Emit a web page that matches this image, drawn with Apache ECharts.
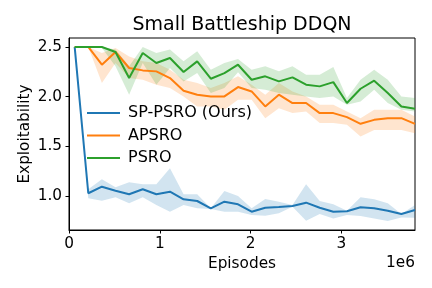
<!DOCTYPE html>
<html>
<head>
<meta charset="utf-8">
<script src="https://cdn.jsdelivr.net/npm/echarts@6/dist/echarts.min.js"></script>
<style>html,body{margin:0;padding:0;background:#fff}#c{width:432px;height:288px}</style>
</head>
<body>
<div id="c"></div>
<script>
// Episodes (x values, in units of 1e6)
const episodes = [0.0625,0.2125,0.3625,0.5125,0.6625,0.8125,0.9625,1.1125,1.2625,1.4125,1.5625,1.7125,1.8625,2.0125,2.1625,2.3125,2.4625,2.6125,2.7625,2.9125,3.0625,3.2125,3.3625,3.5125,3.6625,3.8125];
const xTicks = [0, 1, 2, 3];
const yTicks = [1.0, 1.5, 2.0, 2.5];

const spMean  = [2.5,1.027,1.093,1.053,1.017,1.067,1.017,1.043,0.966,0.949,0.875,0.942,0.916,0.841,0.881,0.888,0.899,0.932,0.881,0.841,0.845,0.886,0.875,0.851,0.818,0.858];
const spUpper = [2.5,1.067,1.168,1.087,1.137,1.117,1.117,1.279,1.016,1.016,0.875,1.050,0.999,0.875,0.969,0.942,0.909,1.117,0.949,0.915,0.851,0.986,0.966,0.926,0.818,0.909];
const spLower = [2.5,0.976,0.952,0.986,0.926,0.986,0.909,0.841,0.909,0.875,0.868,0.841,0.841,0.808,0.801,0.825,0.892,0.751,0.818,0.774,0.808,0.798,0.774,0.747,0.784,0.781];

const apMean  = [2.5,2.5,2.321,2.449,2.288,2.264,2.254,2.187,2.059,2.019,2.002,2.002,2.096,2.052,1.901,2.019,1.935,1.935,1.834,1.834,1.793,1.726,1.766,1.783,1.783,1.726];
const apUpper = [2.5,2.5,2.439,2.490,2.405,2.355,2.338,2.271,2.170,2.136,2.086,2.136,2.204,2.120,2.019,2.136,2.052,2.002,1.918,1.918,1.851,1.783,1.867,1.867,1.867,1.800];
const apLower = [2.5,2.5,2.136,2.338,2.187,2.170,2.120,2.086,2.002,1.901,1.901,1.867,1.968,1.968,1.783,1.884,1.834,1.851,1.733,1.733,1.716,1.598,1.665,1.665,1.665,1.632];

const psMean  = [2.5,2.5,2.5,2.449,2.187,2.439,2.338,2.389,2.247,2.355,2.180,2.237,2.321,2.170,2.204,2.153,2.194,2.120,2.103,2.146,1.935,2.079,2.160,2.036,1.901,1.877];
const psUpper = [2.5,2.5,2.5,2.473,2.305,2.5,2.439,2.473,2.355,2.456,2.271,2.338,2.379,2.271,2.305,2.254,2.305,2.220,2.220,2.298,1.985,2.170,2.271,2.170,2.002,1.985];
const psLower = [2.5,2.5,2.49,2.305,2.019,2.338,2.120,2.288,2.153,2.237,2.036,2.086,2.244,2.086,2.069,2.036,2.019,2.002,1.985,2.002,1.918,1.951,2.069,1.935,1.867,1.851];

const names = ['SP-PSRO (Ours)', 'APSRO', 'PSRO'];
const colors = ['#1f77b4', '#ff7f0e', '#2ca02c'];
const fills = ['rgba(31,119,180,0.2)', 'rgba(255,127,14,0.2)', 'rgba(44,160,44,0.2)'];
const means = [spMean, apMean, psMean];
const uppers = [spUpper, apUpper, psUpper];
const lowers = [spLower, apLower, psLower];

const FONT = 'DejaVu Sans';
const chart = echarts.init(document.getElementById('c'), null, {renderer: 'canvas'});

function bandSeries(k) {
  const data = episodes.map((x, i) => [x * 1e6, lowers[k][i], uppers[k][i]]);
  return {
    type: 'custom',
    name: names[k] + ' band',
    silent: true,
    z: 1,
    encode: {x: 0, y: [1, 2]},
    data: data,
    renderItem: function (params, api) {
      if (params.dataIndex !== 0) return null;
      const pts = [];
      for (let i = 0; i < data.length; i++) pts.push(api.coord([data[i][0], data[i][2]]));
      for (let i = data.length - 1; i >= 0; i--) pts.push(api.coord([data[i][0], data[i][1]]));
      return {type: 'polygon', shape: {points: pts}, style: {fill: fills[k], stroke: null}};
    }
  };
}
function lineSeries(k) {
  return {
    type: 'line',
    name: names[k],
    z: 3,
    symbol: 'none',
    color: colors[k],
    lineStyle: {width: 2, color: colors[k]},
    data: episodes.map((x, i) => [x * 1e6, means[k][i]])
  };
}

const series = [];
for (let k = 0; k < 3; k++) { series.push(bandSeries(k)); series.push(lineSeries(k)); }

chart.setOption({
  animation: false,
  textStyle: {fontFamily: FONT},
  grid: {left: 69, right: 17, top: 38, bottom: 58, show: true, borderColor: '#000', borderWidth: 1, backgroundColor: 'transparent', outerBoundsMode: 'none'},
  legend: {
    data: names.map((n, k) => ({name: n, icon: 'rect', itemStyle: {color: colors[k]}})),
    orient: 'vertical', left: 82, top: 100, itemWidth: 33, itemHeight: 2, itemGap: 6.5,
    textStyle: {fontFamily: FONT, fontSize: 16, color: '#000', padding: [0, 0, 0, 3], lineHeight: 16},
    selectedMode: false
  },
  graphic: [
    {type: 'text', x: 242, y: 16, style: {text: 'Small Battleship DDQN', font: '19px "DejaVu Sans"', fill: '#000', align: 'center', verticalAlign: 'top'}},
    {type: 'text', x: 415, y: 256, style: {text: '1e6', font: '15.3px "DejaVu Sans"', fill: '#000', align: 'right', verticalAlign: 'top'}}
  ],
  xAxis: {
    type: 'value', min: 0, max: 3.8125e6,
    name: 'Episodes', nameLocation: 'middle', nameGap: 27, nameMoveOverlap: false,
    nameTextStyle: {fontFamily: FONT, fontSize: 15.3, color: '#000'},
    splitLine: {show: false},
    axisLine: {show: true, onZero: false, lineStyle: {color: '#000', width: 1}},
    axisTick: {show: true, length: 3.5, lineStyle: {color: '#000'}, customValues: xTicks.map(v => v * 1e6)},
    axisLabel: {fontFamily: FONT, fontSize: 15.3, color: '#000', margin: 7, customValues: xTicks.map(v => v * 1e6), formatter: v => String(Math.round(v / 1e6))}
  },
  yAxis: {
    type: 'value', min: 0.657, max: 2.59,
    name: 'Exploitability', nameLocation: 'middle', nameGap: 36, nameMoveOverlap: false,
    nameTextStyle: {fontFamily: FONT, fontSize: 15.3, color: '#000'},
    splitLine: {show: false},
    axisLine: {show: true, onZero: false, lineStyle: {color: '#000', width: 1}},
    axisTick: {show: true, length: 3.5, lineStyle: {color: '#000'}, customValues: yTicks},
    axisLabel: {fontFamily: FONT, fontSize: 15.3, color: '#000', margin: 7, customValues: yTicks, formatter: v => v.toFixed(1)}
  },
  series: series
});
</script>
</body>
</html>
